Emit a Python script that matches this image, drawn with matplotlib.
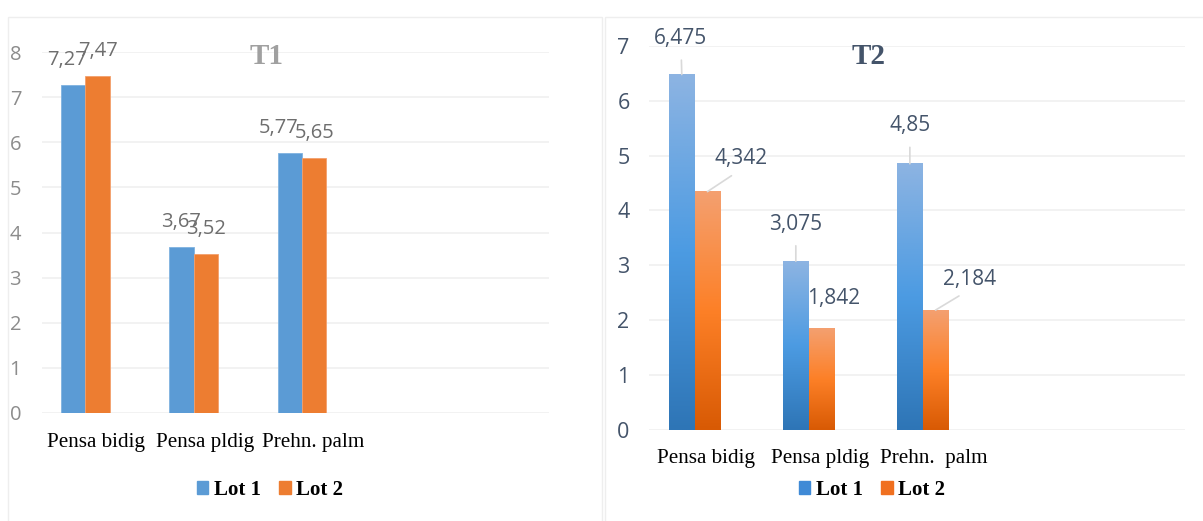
import matplotlib
matplotlib.use("Agg")
import matplotlib.pyplot as plt
import numpy as np
from matplotlib.colors import LinearSegmentedColormap
from matplotlib.patches import Rectangle, Patch

categories = ["Pensa bidig", "Pensa pldig", "Prehn. palm"]
categories_t2 = ["Pensa bidig", "Pensa pldig", "Prehn.  palm"]
series_names = ["Lot 1", "Lot 2"]

t1_lot1 = [7.27, 3.67, 5.77]
t1_lot2 = [7.47, 3.52, 5.65]

t2_lot1 = [6.475, 3.075, 4.85]
t2_lot2 = [4.342, 1.842, 2.184]

W, H, DPI = 1203, 521, 100
SERIF = ["Liberation Serif", "DejaVu Serif"]
SANS = ["Open Sans", "DejaVu Sans"]

GRID = "#f0f0f0"
BLUE, ORANGE = "#5b9bd5", "#ed7d31"
SLATE = "#44546a"


def fmt(v):
    return f"{v:g}".replace(".", ",")


def px_axes(fig, x0, x1, ytop, ybot):
    # axes placed by pixel box (top-left origin)
    return fig.add_axes([x0 / W, (H - ybot) / H, (x1 - x0) / W, (ybot - ytop) / H])


def style_axes(ax, ymax, xmax, tick_color, tick_size, pad):
    ax.set_ylim(0, ymax)
    ax.set_xlim(-0.4, xmax)
    ax.set_yticks(range(ymax + 1))
    ax.set_xticks([])
    for s in ax.spines.values():
        s.set_visible(False)
    ax.yaxis.grid(True, color=GRID, lw=1.2)
    ax.set_axisbelow(True)
    ax.tick_params(axis="y", length=0, pad=pad, labelcolor=tick_color, labelsize=tick_size)
    for lab in ax.get_yticklabels():
        lab.set_fontfamily(SANS)


def category_labels(ax, labels, dy):
    for i, lab in enumerate(labels):
        ax.annotate(lab, xy=(i, 0), xycoords=("data", "axes fraction"),
                    xytext=(11, dy), textcoords="offset pixels",
                    ha="center", va="center", fontsize=15.2, family=SERIF, color="black")


def lot_legend(colors, cx):
    fig.legend(handles=[Patch(color=c) for c in colors], labels=series_names,
               loc="center", bbox_to_anchor=(cx / W, 1 - 490 / H), ncol=2, frameon=False,
               prop={"family": SERIF, "weight": "bold", "size": 15},
               handlelength=0.55, handleheight=0.55, handletextpad=0.25, columnspacing=0.9)


fig = plt.figure(figsize=(W / DPI, H / DPI), dpi=DPI)
fig.patch.set_facecolor("white")

# faint panel frames
fig.add_artist(Rectangle((8 / W, -0.01), 594 / W, (H - 17) / H + 0.01, transform=fig.transFigure,
                         fill=False, ec="#eeeeee", lw=1))
fig.add_artist(Rectangle((605 / W, -0.01), 0.6, (H - 17) / H + 0.01, transform=fig.transFigure,
                         fill=False, ec="#eeeeee", lw=1))

bw = 0.225
x = np.arange(len(categories))

# ---------- T1 ----------
ax1 = px_axes(fig, 42, 549, 52, 413)
style_axes(ax1, 8, 4.28, "#8c8c8c", 14.5, 15)
b1 = ax1.bar(x - bw / 2, t1_lot1, bw, color=BLUE, ec="#7fb2e0", lw=0.6)
b2 = ax1.bar(x + bw / 2, t1_lot2, bw, color=ORANGE, ec="#f3a06c", lw=0.6)

t1_shift = {(0, 0): -6, (2, 0): -11}
for j, bars in enumerate([b1, b2]):
    for i, r in enumerate(bars):
        v = r.get_height()
        ax1.annotate(fmt(v), xy=(r.get_x() + r.get_width() / 2, v),
                     xytext=(t1_shift.get((i, j), 0), 25), textcoords="offset pixels",
                     ha="center", va="center", fontsize=14.5, family=SANS, color="#6e6e6e")

category_labels(ax1, categories, -29)
fig.text(267 / W, 1 - 56 / H, "T1", ha="center", va="center", fontsize=21,
         fontweight="bold", family=SERIF, color="#a0a0a0")
lot_legend([BLUE, ORANGE], 270)

# ---------- T2 ----------
ax2 = px_axes(fig, 649, 1185, 45.7, 430)
style_axes(ax2, 7, 4.30, SLATE, 15.5, 14)
c1 = ax2.bar(x - bw / 2, t2_lot1, bw, color="none", lw=0)
c2 = ax2.bar(x + bw / 2, t2_lot2, bw, color="none", lw=0)

blue_cm = LinearSegmentedColormap.from_list("bl", ["#2e75b6", "#4c9be2", "#8db4e2"])
orange_cm = LinearSegmentedColormap.from_list("or", ["#d85a04", "#fd8027", "#f4a070"])
grad = np.linspace(0, 1, 256).reshape(-1, 1)
for bars, cm in [(c1, blue_cm), (c2, orange_cm)]:
    for r in bars:
        x0, w, h = r.get_x(), r.get_width(), r.get_height()
        ax2.imshow(grad, cmap=cm, origin="lower", aspect="auto",
                   extent=[x0, x0 + w, 0, h], zorder=2, interpolation="bilinear")
ax2.set_xlim(-0.4, 4.30)
ax2.set_ylim(0, 7)

# label offsets in pixels: (dx, dy, leader line)
t2_offsets = {
    (0, 0): (-1, 36, True), (1, 0): (0, 37, True), (2, 0): (0, 38, True),
    (0, 1): (34, 33, True), (1, 1): (12, 30, False), (2, 1): (34, 31, True),
}
for j, bars in enumerate([c1, c2]):
    for i, r in enumerate(bars):
        v = r.get_height()
        dx, dy, line = t2_offsets[(i, j)]
        ap = None
        if line:
            ap = dict(arrowstyle="-", color="#d9d9d9", lw=1.2, shrinkA=6 if j == 0 else 5,
                      shrinkB=0, relpos=(0.5, 0.0) if j == 1 else (0.5, 0.5))
        ax2.annotate(fmt(v), xy=(r.get_x() + r.get_width() / 2, v),
                     xytext=(dx, dy), textcoords="offset pixels",
                     ha="center", va="center", fontsize=15, family=SANS, color=SLATE,
                     arrowprops=ap)

category_labels(ax2, categories_t2, -29)
fig.text(869 / W, 1 - 57 / H, "T2", ha="center", va="center", fontsize=21,
         fontweight="bold", family=SERIF, color=SLATE)
lot_legend(["#3f8ad6", "#f07020"], 872)

fig.savefig("out.png", dpi=DPI, facecolor="white")
